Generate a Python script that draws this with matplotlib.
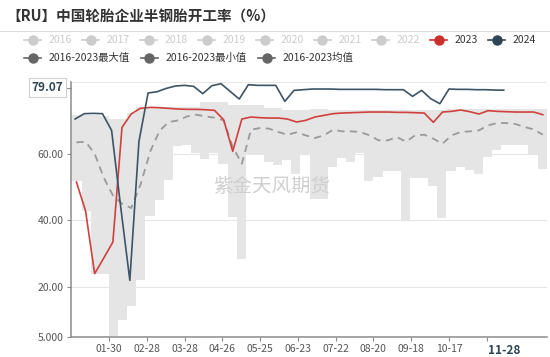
import matplotlib
matplotlib.use('Agg')
import matplotlib.pyplot as plt
from matplotlib.lines import Line2D
import pandas as pd

plt.rcParams['font.family'] = ['Noto Sans CJK SC', 'DejaVu Sans']

title = '【RU】中国轮胎企业半钢胎开工率（%）'
watermark = '紫金天风期货'

legend_row1 = ['2016', '2017', '2018', '2019', '2020', '2021', '2022', '2023', '2024']
legend_row2 = ['2016-2023最大值', '2016-2023最小值', '2016-2023均值']

# weekly series (Thursday releases)
start_2024 = '2024-01-04'
v2024 = [70.4, 72.0, 72.1, 72.0, 67.0, 44.0, 22.0, 63.7, 78.2, 78.6,
         79.6, 80.3, 80.5, 80.2, 78.0, 80.4, 81.0, 78.7, 76.4, 80.7,
         80.5, 80.5, 80.5, 75.7, 79.0, 79.2, 79.4, 79.4, 79.4, 79.3,
         79.3, 79.3, 79.3, 79.3, 79.2, 79.2, 79.2, 77.2, 79.0, 76.5,
         75.0, 79.4, 79.3, 79.3, 79.2, 79.2, 79.1, 79.07]

start_2023 = '2023-01-05'
v2023 = [51.5, 42.9, 24.0, 28.7, 33.5, 67.9, 71.9, 73.6, 73.9, 73.8,
         73.6, 73.4, 73.3, 73.3, 73.2, 73.0, 70.2, 60.7, 70.4, 71.0,
         70.8, 70.7, 70.7, 70.4, 69.5, 70.0, 71.0, 71.5, 72.0, 72.2,
         72.3, 72.4, 72.5, 72.5, 72.5, 72.4, 72.4, 72.3, 72.2, 69.4,
         72.5, 72.7, 73.1, 72.6, 71.9, 72.9, 72.7, 72.6, 72.5, 72.5,
         72.5, 71.7]

mean_vals = [63.4, 63.6, 60.0, 52.8, 47.5, 45.0, 43.7, 50.5, 61.0, 67.0,
             69.5, 70.0, 71.2, 71.7, 71.2, 70.8, 70.0, 62.0, 57.0, 67.2,
             67.7, 67.5, 66.5, 65.7, 66.4, 65.5, 64.7, 65.5, 67.2, 66.7,
             66.7, 66.5, 65.5, 64.0, 64.0, 65.0, 63.6, 65.5, 65.7, 64.5,
             63.0, 65.5, 66.5, 66.7, 67.0, 68.5, 69.2, 69.2, 68.9, 68.0,
             67.3, 65.7]

band_start = '2024-01-02'
band_max = [71.5, 71.5, 71.5, 71.2, 70.5, 70.5, 72.2, 73.9, 74.0, 74.0,
            74.0, 74.0, 74.0, 74.0, 75.5, 75.5, 75.5, 74.7, 74.7, 74.7,
            74.7, 73.7, 73.7, 73.0, 73.0, 73.0, 73.4, 73.4, 73.0, 73.0,
            73.0, 73.0, 73.1, 73.1, 73.2, 73.2, 73.0, 73.0, 73.0, 73.0,
            73.2, 73.5, 73.5, 73.4, 73.4, 73.5, 73.5, 73.5, 73.4, 73.4,
            73.4, 73.3]
band_min = [51.7, 42.7, 24.0, 24.0, 5.3, 10.2, 14.4, 22.2, 41.2, 46.2,
            52.0, 62.2, 62.5, 60.2, 58.4, 60.2, 57.0, 41.0, 28.4, 60.0,
            60.0, 57.5, 56.5, 58.0, 54.0, 60.0, 46.5, 46.5, 56.0, 58.7,
            57.4, 60.2, 51.7, 53.0, 54.7, 54.7, 39.7, 52.7, 52.7, 50.2,
            40.7, 54.7, 56.0, 55.0, 54.0, 59.0, 61.2, 62.7, 62.7, 62.7,
            59.5, 55.5]

tick_dates = ['01-30', '02-28', '03-28', '04-26', '05-25', '06-23',
              '07-22', '08-20', '09-18', '10-17', '11-15']
last_date = '11-28'
last_value = 79.07
y_ticks = [5, 20, 40, 60]
y_labels = ['5.000', '20.00', '40.00', '60.00']


def md_index(md):
    # position on a 2024 month-day axis (0 = 01-01)
    return pd.Timestamp('2024-' + md).dayofyear - 1


def week_index(start, n):
    days = pd.date_range(start, periods=n, freq='7D').strftime('%m-%d')
    return [md_index(d) for d in days]


x2024 = week_index(start_2024, len(v2024))
x2023 = week_index(start_2023, len(v2023))
xband = week_index(band_start, len(band_max))
xband = [0] + xband[1:] + [365]
bmax = band_max + [band_max[-1]]
bmin = band_min + [band_min[-1]]

W, H = 550, 357
fig = plt.figure(figsize=(W / 100, H / 100), dpi=100)


def P(x, y):
    return x / W, 1 - y / H


ax = fig.add_axes([71.2 / W, (H - 337) / H, 475.5 / W, 255.3 / H])
ax.set_xlim(0, 365)
ax.set_ylim(5, 81.6)

for g in [20, 40, 60, 81.6]:
    ax.axhline(g, color='#e6e6e6', lw=0.8, zorder=0)

ax.fill_between(xband, bmin, bmax, step='post', color='#e5e5e5', lw=0, zorder=1)
fig.text(*P(272, 187), watermark, fontsize=14, color='#cfcfcf', ha='center',
         va='center', zorder=2)
ax.plot(x2023, mean_vals, color='#9a9a9a', lw=1.3, dashes=(4, 3), zorder=3)
ax.plot(x2023, v2023, color='#d0413d', lw=1.2, zorder=4)
ax.plot(x2024, v2024, color='#3d5466', lw=1.2, zorder=5)

for s in ['top', 'right']:
    ax.spines[s].set_visible(False)
for s in ['left', 'bottom']:
    ax.spines[s].set_color('#8c8c8c')
    ax.spines[s].set_linewidth(1.1)

ax.set_yticks(y_ticks)
ax.set_yticklabels(y_labels)
xt = [md_index(d) for d in tick_dates]
ax.set_xticks(xt)
ax.set_xticklabels(tick_dates[:-1] + [''])
ax.tick_params(axis='both', colors='#8c8c8c', labelcolor='#555555',
               labelsize=7.5, length=3, width=0.8)
ax.tick_params(axis='y', pad=2.5)
ax.tick_params(axis='x', pad=2)

# pointer labels
ax.text(md_index(last_date), -0.028, last_date, transform=ax.get_xaxis_transform(),
        ha='center', va='top', fontsize=8.5, fontweight='bold', color='#2f4554')
fig.text(*P(47.5, 87.5), f'{last_value:.2f}', ha='center', va='center',
         fontsize=8.5, fontweight='bold', color='#2f4554',
         bbox=dict(boxstyle='square,pad=0.25', fc='white', ec='#d0d0d0', lw=0.8))
fig.add_artist(Line2D([66 / W, 71 / W], [1 - 87.5 / H] * 2, color='#8c8c8c', lw=0.8))

# title
fig.text(*P(6, 17), title, fontsize=10.5, fontweight='bold', color='#333333',
         ha='left', va='center')
fig.add_artist(Line2D([0, 1], [1 - 30.7 / H] * 2, color='#dddddd', lw=0.8))

# legend
row1_colors = ['#cccccc'] * 7 + ['#c9302c', '#2f4554']
for i, lab in enumerate(legend_row1):
    x0, y0 = 24 + 58 * i, 39.7
    c = row1_colors[i]
    fig.add_artist(Line2D([x0 / W, (x0 + 17) / W], [1 - y0 / H] * 2, color=c, lw=1.2))
    fig.add_artist(Line2D([(x0 + 8.5) / W], [1 - y0 / H], marker='o', ms=6.5,
                          color=c, mec=c))
    tc = '#cccccc' if i < 7 else '#333333'
    fig.text(*P(x0 + 25, y0), lab, fontsize=7.5, color=tc, ha='left', va='center')

for i, lab in enumerate(legend_row2):
    x0, y0 = 24 + 117 * i, 58
    c = '#666666'
    fig.add_artist(Line2D([x0 / W, (x0 + 17) / W], [1 - y0 / H] * 2, color=c, lw=1.2))
    fig.add_artist(Line2D([(x0 + 8.5) / W], [1 - y0 / H], marker='o', ms=6.5,
                          color=c, mec=c))
    fig.text(*P(x0 + 25, y0), lab, fontsize=7.5, color='#333333', ha='left', va='center')

fig.savefig('out.png', dpi=100)
plt.close(fig)
